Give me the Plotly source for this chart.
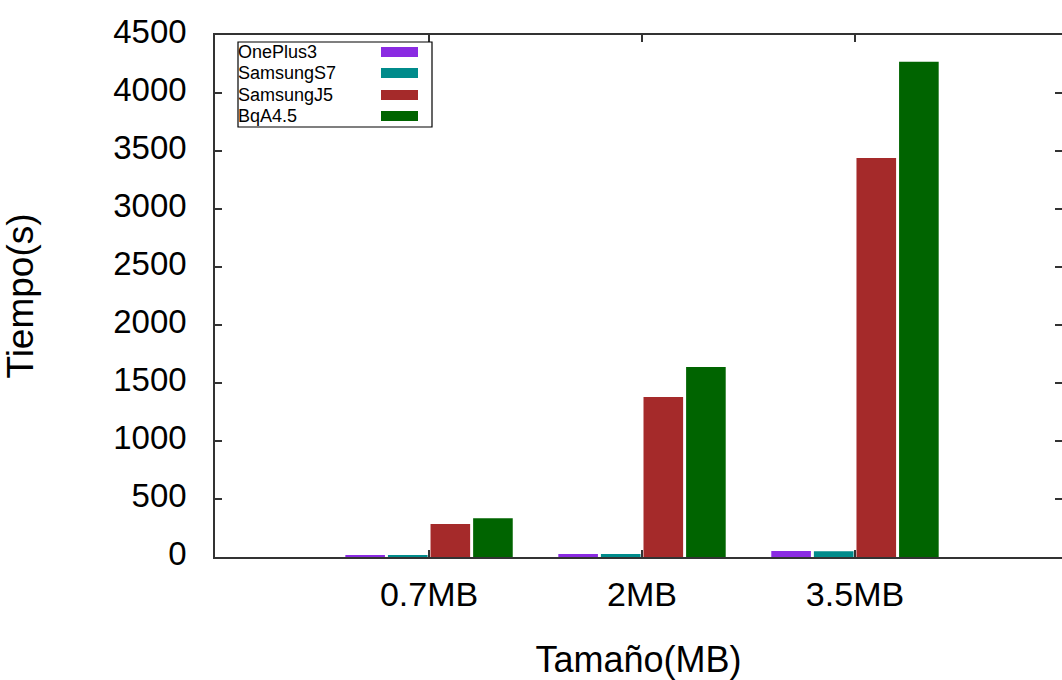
import plotly.graph_objects as go

categories = ["0.7MB", "2MB", "3.5MB"]
series_names = ["OnePlus3", "SamsungS7", "SamsungJ5", "BqA4.5"]
oneplus3 = [15, 26, 52]
samsungs7 = [10, 26, 50]
samsungj5 = [284, 1379, 3439]
bqa45 = [334, 1638, 4270]
y_ticks = [0, 500, 1000, 1500, 2000, 2500, 3000, 3500, 4000, 4500]

values = [oneplus3, samsungs7, samsungj5, bqa45]
colors = ["#8a2be2", "#008b8b", "#a52a2a", "#006400"]
xpos = list(range(len(categories)))

FONT = "Liberation Sans, Arial, sans-serif"

fig = go.Figure()
for name, vals, col in zip(series_names, values, colors):
    fig.add_trace(go.Bar(x=xpos, y=vals, name=name, marker=dict(color=col, line=dict(width=0))))

fig.update_layout(
    width=1062, height=680,
    margin=dict(l=215, r=0, t=35, b=123),
    paper_bgcolor="white", plot_bgcolor="white",
    barmode="group", bargap=0.2, bargroupgap=0.07,
    showlegend=False,
    font=dict(family=FONT, color="black", size=32),
)
fig.update_xaxes(
    range=[-1.005, 2.972], tickvals=xpos, ticktext=categories,
    showline=True, linecolor="#333333", linewidth=1.5, mirror="allticks",
    ticks="inside", ticklen=7, tickcolor="#333333", tickwidth=1.5,
    showgrid=False, zeroline=False, automargin=False,
    tickfont=dict(size=34), ticklabelstandoff=6,
    title=dict(text="Tamaño(MB)", font=dict(size=36), standoff=41),
)
fig.update_yaxes(
    range=[0, 4500], tickvals=y_ticks,
    showline=True, linecolor="#333333", linewidth=1.5, mirror="allticks",
    ticks="inside", ticklen=7, tickcolor="#333333", tickwidth=1.5,
    showgrid=False, zeroline=False, automargin=False,
    tickfont=dict(size=33), ticklabelshift=-4, ticklabelstandoff=20,
    title=dict(text="Tiempo(s)", font=dict(size=37), standoff=80),
)

# legend box drawn manually (text left, swatch right, gnuplot style)
PW, PH, PL, PB = 847, 522, 215, 557
fig.add_shape(type="rect", xref="paper", yref="paper",
              x0=(238 - PL) / PW, x1=(432 - PL) / PW,
              y0=(PB - 127) / PH, y1=(PB - 42) / PH,
              line=dict(color="black", width=1.2), fillcolor="rgba(0,0,0,0)")
row_y = [52, 73, 95, 116]
for name, col, ry in zip(series_names, colors, row_y):
    fig.add_annotation(xref="paper", yref="paper", x=(237 - PL) / PW, y=(PB - ry) / PH,
                       text=name, showarrow=False, xanchor="left", yanchor="middle",
                       borderpad=0,
                       font=dict(size=18, family=FONT, color="black"))
    fig.add_shape(type="rect", xref="paper", yref="paper",
                  x0=(381 - PL) / PW, x1=(418 - PL) / PW,
                  y0=(PB - ry - 5) / PH, y1=(PB - ry + 5) / PH,
                  line=dict(width=0), fillcolor=col)

fig.write_html("out.html", config={"displayModeBar": False},
               post_script="document.body.style.margin='0px';")
